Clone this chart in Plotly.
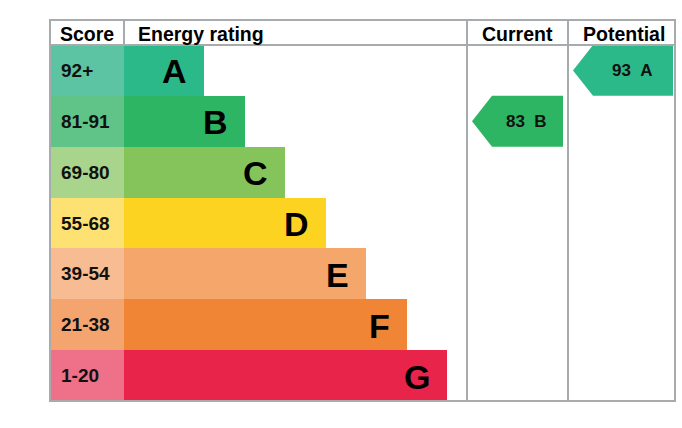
import plotly.graph_objects as go

# ---- data ----
bands = ["A", "B", "C", "D", "E", "F", "G"]
score_ranges = ["92+", "81-91", "69-80", "55-68", "39-54", "21-38", "1-20"]
bar_colors = ["#2cb98a", "#2db564", "#84c45a", "#fdd322", "#f5a66b", "#ef8535", "#e8244a"]
score_colors = ["#5cc4a2", "#60c488", "#a8d48b", "#fde173", "#f7bc92", "#f3a46f", "#ef7089"]
headers = ["Score", "Energy rating", "Current", "Potential"]
current_score, current_band = 83, "B"
potential_score, potential_band = 93, "A"

# ---- layout geometry (pixels) ----
W, H = 682, 428
left, right, top, head_bot, bottom = 50, 675, 20, 45, 401
score_right = 124
bar_base_len, bar_step = 80, 40.5
col_cur, col_pot = 467, 568
row_h = (bottom - head_bot) / len(bands)
grid = "#a7abae"
font_family = "Liberation Sans, Arial, sans-serif"

fig = go.Figure()

centers = [head_bot + row_h * (i + 0.5) for i in range(len(bands))]
lengths = [bar_base_len + bar_step * i for i in range(len(bands))]

# score column
fig.add_trace(go.Bar(
    orientation="h", y=centers, x=[score_right - left] * len(bands), base=left,
    width=row_h, marker=dict(color=score_colors, line=dict(width=0)),
    hoverinfo="skip", showlegend=False))
# rating bars
fig.add_trace(go.Bar(
    orientation="h", y=centers, x=lengths, base=score_right,
    width=row_h, marker=dict(color=bar_colors, line=dict(width=0)),
    hoverinfo="skip", showlegend=False))

annotations = []
for i, b in enumerate(bands):
    annotations.append(dict(x=left + 9, y=centers[i], text=f"<b>{score_ranges[i]}</b>",
                            xanchor="left", yanchor="middle", showarrow=False,
                            font=dict(size=19, color="#111", family=font_family)))
    annotations.append(dict(x=score_right + lengths[i] - 15, y=centers[i] + 1, text=f"<b>{b}</b>",
                            xanchor="right", yanchor="middle", showarrow=False,
                            font=dict(size=34, color="#000", family=font_family)))

# headers
hy = (top + head_bot) / 2 + 1
hfont = dict(size=19.5, color="#000", family=font_family)
annotations.append(dict(x=left + 8, y=hy, text=f"<b>{headers[0]}</b>", xanchor="left", showarrow=False,
                        yanchor="middle", font=hfont))
annotations.append(dict(x=score_right + 12, y=hy, text=f"<b>{headers[1]}</b>", xanchor="left", showarrow=False,
                        yanchor="middle", font=hfont))
annotations.append(dict(x=(col_cur + col_pot) / 2, y=hy, text=f"<b>{headers[2]}</b>", xanchor="center",
                        showarrow=False, yanchor="middle", font=hfont))
annotations.append(dict(x=(col_pot + right) / 2 + 2, y=hy, text=f"<b>{headers[3]}</b>", xanchor="center",
                        showarrow=False, yanchor="middle", font=hfont))

# rating arrows
def arrow(col_l, col_r, band, score, pad_r):
    i = bands.index(band)
    y0 = head_bot + row_h * i
    y1 = y0 + row_h
    xl = col_l + 5
    xr = col_r - pad_r
    sh = xl + 20
    xs = [xl, sh, xr, xr, sh, xl]
    ys = [(y0 + y1) / 2, y0, y0, y1, y1, (y0 + y1) / 2]
    fig.add_trace(go.Scatter(x=xs, y=ys, fill="toself", mode="lines",
                             fillcolor=bar_colors[i], line=dict(width=0, color=bar_colors[i]),
                             hoverinfo="skip", showlegend=False))
    annotations.append(dict(x=(sh + xr) / 2 - 1, y=(y0 + y1) / 2, text=f"<b>{score}\u00a0\u00a0{band}</b>",
                            xanchor="center", yanchor="middle", showarrow=False,
                            font=dict(size=17, color="#111", family=font_family)))

arrow(col_cur, col_pot, current_band, current_score, 5)
arrow(col_pot, right, potential_band, potential_score, 2)

lw = 2
shapes = [
    dict(type="rect", x0=left, x1=right, y0=top, y1=bottom, line=dict(color=grid, width=lw)),
    dict(type="line", x0=left, x1=right, y0=head_bot, y1=head_bot, line=dict(color=grid, width=lw)),
    dict(type="line", x0=score_right, x1=score_right, y0=top, y1=head_bot, line=dict(color=grid, width=lw)),
    dict(type="line", x0=col_cur, x1=col_cur, y0=top, y1=bottom, line=dict(color=grid, width=lw)),
    dict(type="line", x0=col_pot, x1=col_pot, y0=top, y1=bottom, line=dict(color=grid, width=lw)),
]
for s in shapes:
    s["layer"] = "above"

fig.update_layout(
    width=W, height=H, margin=dict(l=0, r=0, t=0, b=0),
    paper_bgcolor="white", plot_bgcolor="white",
    xaxis=dict(range=[0, W], visible=False, fixedrange=True),
    yaxis=dict(range=[H, 0], visible=False, fixedrange=True),
    barmode="overlay", bargap=0,
    shapes=shapes, annotations=annotations, showlegend=False,
)
fig.write_html("out.html", config={"displayModeBar": False},
               post_script="document.body.style.margin='0';document.body.style.overflow='hidden';")
